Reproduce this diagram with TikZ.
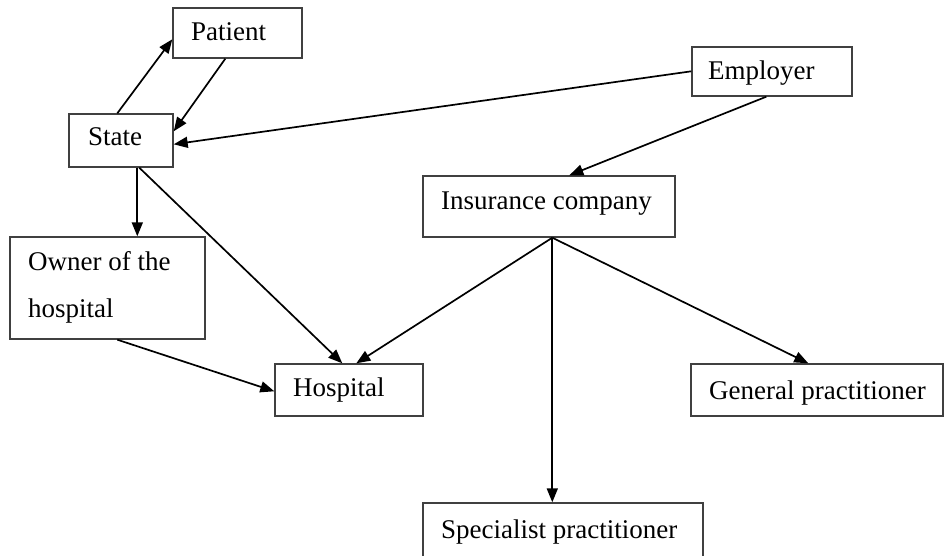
\documentclass[tikz,border=0pt]{standalone}
\usepackage{fontspec}
\setmainfont{Liberation Serif}
\usetikzlibrary{calc,arrows.meta}
\begin{document}
\begin{tikzpicture}[x=1pt,y=-1pt,
  box/.style={draw=black!75,line width=1.4pt,rectangle,inner sep=0pt,fill=white},
  txt/.style={anchor=base west,inner sep=0pt,font=\fontsize{27}{32}\selectfont},
  arr/.style={line width=1.7pt,-{Triangle[length=14pt,width=11pt]}}]
\useasboundingbox (0,0) rectangle (944,556);
\clip (0,0) rectangle (944,556);
% boxes
\node[box,minimum width=129pt,minimum height=50pt] (patient) at (237.5,33) {};
\node[box,minimum width=104pt,minimum height=53pt] (state) at (121,140.5) {};
\node[box,minimum width=160pt,minimum height=49pt] (employer) at (772,71.5) {};
\node[box,minimum width=252pt,minimum height=61pt] (insurance) at (549,206.5) {};
\node[box,minimum width=195pt,minimum height=102pt] (owner) at (107.5,288) {};
\node[box,minimum width=148pt,minimum height=52pt] (hospital) at (349,390) {};
\node[box,minimum width=252pt,minimum height=52pt] (gp) at (817,390) {};
\node[box,minimum width=280pt,minimum height=57pt] (specialist) at (563,531.5) {};
% texts
\node[txt] (tpatient) at (191,41) {Patient};
\node[txt] (tstate) at (88,146) {State};
\node[txt] (temployer) at (708,80) {Employer};
\node[txt] (tinsurance) at (441,209) {Insurance company};
\node[txt] (towner1) at (28,270) {Owner of the};
\node[txt] (towner2) at (28,317) {hospital};
\node[txt] (thospital) at (293,396) {Hospital};
\node[txt] (tgp) at (709,399) {General practitioner};
\node[txt] (tspecialist) at (441,538) {Specialist practitioner};
% connectors
\draw[arr] ($(state.north west)+(49,0)$) -- ($(patient.north west)+(0,32)$);
\draw[arr] ($(patient.south west)+(53,0)$) -- ($(state.north east)+(0,18)$);
\draw[arr] ($(employer.north west)+(0,25)$) -- ($(state.north east)+(0,31)$);
\draw[arr] ($(employer.south west)+(75,0)$) -- ($(insurance.north west)+(147,0)$);
\draw[arr] ($(state.south west)+(69,0)$) -- ($(owner.north west)+(128,0)$);
\draw[arr] ($(state.south west)+(71,0)$) -- ($(hospital.north west)+(68,0)$);
\draw[arr] ($(owner.south west)+(108,0)$) -- ($(hospital.north west)+(0,28)$);
\draw[arr] ($(insurance.south west)+(130,0)$) -- ($(hospital.north west)+(82,0)$);
\draw[arr] ($(insurance.south west)+(130,0)$) -- ($(gp.north west)+(118,0)$);
\draw[arr] ($(insurance.south west)+(130,0)$) -- ($(specialist.north west)+(130,0)$);
\end{tikzpicture}
\end{document}
